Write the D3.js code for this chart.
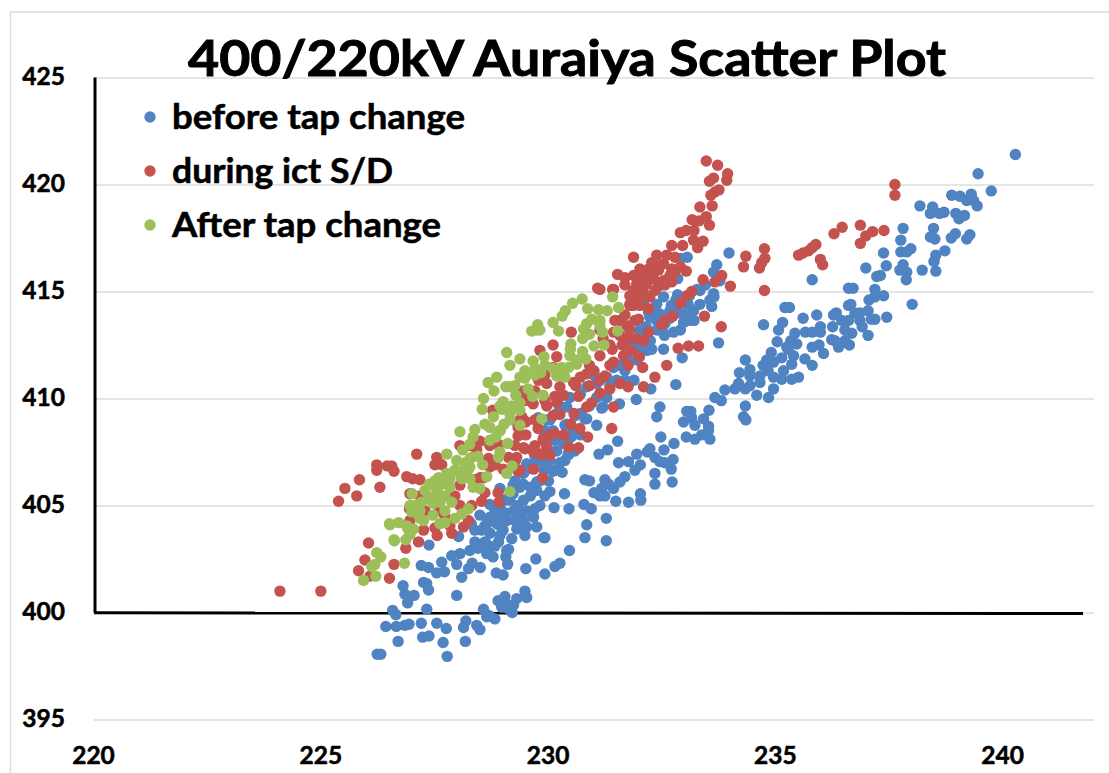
<!DOCTYPE html>
<html><head><meta charset="utf-8">
<script src="https://cdn.jsdelivr.net/npm/d3@7/dist/d3.min.js"></script>
<style>html,body{margin:0;padding:0;background:#fff;overflow:hidden}svg{display:block}text{font-family:Lato,"Open Sans",sans-serif;font-weight:700;fill:#000;stroke:#000;stroke-width:.55px}</style>
</head><body><div id="chart"></div>
<script>
const chartTitle = "400/220kV Auraiya Scatter Plot";
const seriesNames = ["before tap change", "during ict S/D", "After tap change"];
const seriesColors = ["#5083c1", "#c4524f", "#9dbf59"];
const xTicks = [220, 225, 230, 235, 240];
const yTicks = [395, 400, 405, 410, 415, 420, 425];

const beforeTap = [
[240.27,421.4],[239.45,420.5],[239.74,419.7],[238.87,419.5],[239.05,419.45],[239.3,419.55],[239.2,419.25],[239.35,419.25],[239.43,419],[238.17,419],[238.45,418.95],[238.4,418.65],[238.6,418.65],[238.7,418.7],[238.96,418.65],[239.15,418.55],[239.03,418.4],[237.8,417.95],[238.47,417.95],[238.4,417.55],[238.5,417.45],[238.95,417.7],[238.86,417.5],[239.27,417.65],[239.2,417.45],[237.75,417.4],[237.97,417],[237.88,416.85],[237.75,416.85],[237.37,416.8],[238.72,416.9],[238.52,416.7],[238.48,416.4],[237.8,416.25],[237.43,416.2],[236.98,416.1],[237.73,416],[237.88,415.9],[238.22,416],[238.52,415.95],[237.87,415.55],[237.3,415.75],[237.22,415.7],[235.8,415.55],[236.6,415.15],[236.7,415.15],[237.18,415.1],[237.37,414.8],[237.18,414.75],[237.05,414.6],[238,414.4],[235.2,414.25],[235.3,414.25],[236.6,414.35],[236.65,414.4],[237.03,414.1],[236.85,414],[236.74,414],[236.33,414],[236.27,413.9],[235.9,413.9],[235.6,413.75],[237.44,413.8],[237.18,413.7],[237.1,413.7],[236.45,413.65],[236.6,413.65],[236.85,413.65],[235.15,413.55],[235.98,413.35],[236.25,413.35],[236.9,413.35],[235.42,413.05],[235.65,413.1],[235.8,413.1],[235.98,413.1],[236.52,413.2],[236.67,413.05],[237.03,412.95],[235.33,412.7],[236.23,412.75],[236.52,412.7],[236.42,412.55],[236.62,412.5],[235.95,412.5],[235.8,412.4],[235.24,412.4],[236.38,412.4],
[234.73,413.45],[235.06,413.2],[236.3,412.7],[235.03,412.65],[235.3,412.5],[236.05,412.1],[235.46,412.55],[235.27,412.3],[235.39,412],[234.9,412.15],[235.13,411.9],[235.64,411.85],[235.8,411.55],[235.35,411.6],[234.33,411.8],[234.8,411.8],[234.72,411.55],[234.95,411.7],[234.43,411.35],[234.2,411.2],[234.83,411.3],[235.17,411.3],[234.43,411.05],[234.65,411.05],[234.95,411],[235.13,410.9],[235.5,411],[235.35,410.9],[234.65,410.75],[234.18,410.7],[234.43,410.6],[234.95,410.45],[233.88,410.4],[234.1,410.45],[234.33,410.45],[234.58,410.15],[234.84,410.05],[233.66,410.05],[233.8,409.9],[234.33,409.65],[234.29,409.15],[234.34,409],[233.53,409.45],[233.04,409.4],[233.13,409.4],[232.45,409.6],[232.38,409.15],[233.15,409.1],[232.97,408.9],[233.41,409.05],[233.22,408.75],[233.52,408.7],[233.03,408.2],[233.52,408.5],[233.37,408.3],[233.22,408.1],[233.55,408.1],[232.47,408.2],[232.76,407.9],[231.52,408],[231.3,407.6],[231.11,407.4],[232.54,407.6],[232.23,407.65],[231.94,407.4],[232.17,407.5],[232.34,407.25],[232.45,407.05],[232.74,407.15],[232.56,407],[231.54,407],[231.76,407.05],[232.02,406.9],[231.9,406.65],[232.7,406.7],[232.34,406.5],[231.68,406.35],[230.8,406.2],[230.9,406.15],[231.24,406.2],[231.57,406.1],[232.34,406],[232.72,406.1],[231.43,405.8],[231.32,406],[231.17,405.8],[231,405.6],[231.24,405.45],[230.35,405.55],[231.13,405.45],[232.02,405.55],[232.03,405.25],[231.48,405.2],[231.76,405.15],[230.78,405.05],[230.94,404.85],[230.45,404.85],[231.27,404.4],[230.84,404.1],[230.8,403.5],[231.27,403.35],
[232.53,412.3],[232.94,411.9],[233.74,412.6],[232.8,410.65],[232.25,410.45],[231.93,409.95],[231.88,410.85],[231.56,409.75],[231.17,409.55],[231.06,408.75],[230.8,409.05],[230.45,407.4],
[233.97,416.8],[233.05,416.6],[232.9,416.55],[233.7,416.25],[233.63,415.9],[232.84,415.6],[233.77,415.5],[233.27,415.1],[233.63,414.9],[232.84,414.85],[232.53,414.75],[233.64,414.75],[233.33,414.4],[233.59,414.3],[232.7,414.35],[233.19,414.1],[232.09,414.55],[232.31,414.1],[232.97,413.95],[233.07,414.4],[232.85,414],[232.53,413.8],[232.97,413.55],[232.75,413.1],[232.5,413.2],[232.38,413.65],[232.23,413.8],[233,413.6],[232.27,412.3],[232.17,412.25],[231.2,409.6],
[232.2,414.03],[232.45,413.95],[232.67,414.1],[232.38,414.4],[232.15,413.35],[232.38,413.2],[232.56,413.5],[232.02,412.4],[232.15,412.85],[231.72,411.95],[231.94,411.8],[231.43,411.45],[231.68,411.3],[231.28,411],[231.5,410.85],[231.06,410.7],[230.84,410.55],[230.7,410.2],[231.06,410.05],[231.28,410.05],[230.47,410.05],[230.4,409.6],[230.7,409.3],[230.84,409.05],[230.18,409.3],[229.96,409],[230.4,408.8],[230.1,408.5],[230.55,408.5],[229.9,408.05],[230.33,407.9],[230.5,408.2],[230.18,407.55],[230.43,407.4],[229.74,407.1],[230.03,407.1],[230.25,407],[229.52,406.95],[229.9,406.65],[230.3,406.55],[230.1,406.6],
[230.03,405.65],[230.12,404.9],[229.92,403.5],[230.46,402.9],[230,406.15],[229.74,405.7],[229.81,405],[229.6,405.85],[229.37,405.85],[229.45,405.25],[229.15,405.25],[228.93,404.9],[228.71,405.05],[229.23,404.75],[229.52,404.75],[229.67,404.45],[229.74,404],[229.45,404.3],[229.08,404.3],[228.86,404.15],[228.6,404.05],[229.3,403.9],[229.52,404],[229,403.85],[228.71,403.7],[228.6,403.3],[228.9,403.3],[229.12,402.95],[228.7,403],[228.93,404.55],[228.71,404.45],[229.22,405.55],[229.44,406.5],[229.66,406.8],[229.97,407],[229.74,406.1],[229.44,406],[229.22,405.95],[228.93,405.8],
[226.31,398.05],[226.23,398.05],[227.77,397.95],[226.69,398.65],[227.23,398.85],[227.37,398.9],[227.68,398.6],[228.17,398.65],[226.42,399.35],[226.65,399.35],[226.84,399.4],[226.93,399.45],[227.2,399.5],[227.54,399.5],[227.75,399.25],[228.13,399.3],[228.18,399.6],[228.42,399.4],[228.49,399.2],[226.57,400.1],[226.64,399.9],[227.32,400.15],[228.57,400.15],[228.64,399.8],[228.82,399.7],[229.2,400],[228.89,400.55],[229.04,400.75],[229.3,400.65],[229.48,401],[229.52,400.7],[229.08,400.4],[229.23,400.35],[228.97,400.25],[229.1,400.2],[228.7,399.85],[227.98,400.8],[226.9,400.45],[227.04,400.8],[226.8,401.25],[226.84,400.85],[227.25,401.4],[227.36,401.05],[227.32,401.35],[228.09,401.65],[227.2,402.2],[227.36,402.1],[227.54,401.85],[227.71,401.9],[227.65,402.35],[228.24,402.05],[228.32,402.3],[228.5,402.1],[228.85,401.85],[229,401.75],[229.5,402.05],[229.92,401.8],[229.72,402.5],[230.14,402.15],[230.25,402.3],[229.1,402.25],[229.06,402.6],[228.78,402.6],[227.98,402.25],[227.87,402.65],[228.05,402.75],[228.27,402.9],[228.38,403.3],[228.64,403.2],[229.08,402.9],[228.64,402.75],[227.37,403.15],[228.02,403.55],[228.3,404.15],[228.53,403.85],[228.64,404.15],[229.9,403.5],[229.77,409.1],[229.9,408.2],
[229.15,405.45],[229.33,405],[229.6,405.45],[229.05,404.65],[228.82,404.75],[229.37,404.55],[229.7,404.85],[229.92,405.45],[229.81,406.15],[229.48,406.6],[229.7,407.3],[229.26,406.15],[229.04,405.25],[228.71,404.3],[228.93,403.6],[229.19,403.45],[228.49,404.55],[228.38,403.85],[229.48,403.6],[229.26,404.3],[228.93,404.05],[228.82,403.1],[228.45,403],
[230.03,407.55],[229.92,408.5],[230.14,408.05],[230.36,408.75],[230.58,409.2],[230.25,409.65],[230.03,409],[230.9,409.65],[231.13,410.15],[231.35,410.6],[231.68,410.85],[231.02,411.05],[231.57,411.55],[232,411.95],[232.24,412.7],[232.55,412.95],[232.9,413.2],[233.1,413.65],[232.45,413.65],[232,413.2],[231.8,412.5],[232.8,414.6],[233.1,414.8],[233.33,415.05],[233.55,414.6],[233.2,413.65],[233.45,415.3],[232.67,413.75],[230.7,408.3],[230.36,407.1],[230.58,407.55],[230.14,406.65],[229.92,406.85]
];

const duringIct = [
[233.47,421.1],[233.72,420.9],[233.94,420.5],[233.92,420.2],[233.63,420.3],[233.54,420.15],[233.75,419.75],[233.66,419.65],[233.57,419.5],[233.6,419],[233.33,418.95],[233.47,418.5],[233.16,418.35],[233.31,418.3],[233.54,418.1],[232.9,417.75],[233.03,417.85],[233.2,417.85],[233.4,417.35],[233.19,417.4],[233.28,417.05],[232.71,417.15],[232.95,417.15],[231.87,416.6],[232.38,416.7],[232.6,416.7],[232.78,416.6],[232.27,416.35],[232.53,416.3],[232.01,416.05],[232.2,416.05],[232.42,416],[232.71,416.05],[232.9,416.15],[233.03,415.95],[232.78,415.9],[231.52,415.8],[231.68,415.65],[231.87,415.75],[232.09,415.65],[232.31,415.6],[232.53,415.5],[232.71,415.45],[231.94,415.35],[232.16,415.35],[232.42,415.25],[231.43,415.1],[231.13,415.1],[231.87,415.05],[232.09,414.95],[232.23,414.75],[231.9,414.75],[231.79,414.4],[231.87,414.35],[232.2,414.2],[233.4,415.55],[233.81,415.75],[233.66,415.45],[234,415.25],[234.75,415.05],[234.29,416.15],[234.34,416.65],[234.64,416.1],[234.69,416.35],[234.76,416.55],[234.75,417],[233.15,415],[233.04,414.8],[232.9,414.45],[233.43,413.85],[233.8,413.35],[232.73,413.85],[232.56,413.65],[232.49,413.45],[235.5,416.7],[235.6,416.8],[235.72,416.9],[235.8,417.05],[235.88,417.2],[235.98,416.5],[236.03,416.25],[236.28,417.7],[236.46,418],
[237.62,420],[237.62,419.5],[236.86,418.1],[237.38,417.85],[237.13,417.8],[236.98,417.6],[236.86,417.25],
[224.09,401],[224.99,401],[226.5,401.6],[225.82,401.95],[226.07,401.7],[225.96,402.45],[226.6,402.25],[226.04,403.25],[226.86,403],[227.14,403.3],[227.87,403.7],[227.25,403.85],[227.5,403.95],[228.13,404],[228.24,404.3],[227.72,404.5],[228.89,405.6],[228.91,405.15],[228.6,405.6],[228.53,405.2],[228.31,405],[225.38,405.2],[225.78,405.45],[225.52,405.8],[225.84,406.2],[226.29,405.85],[226.22,406.9],[226.22,406.65],[226.45,406.85],[226.55,406.85],[226.6,406.6],[226.88,406.35],[227.01,406.25],[227.17,406.2],[227.1,407.4],[227.54,407.25],[227.65,406.9],[228.05,407.8],[228.42,407.6],[228.68,407.2],[228.71,406.8],[229,406.7],[229.33,406.6],[229.12,407.25],[229.3,407.25],[229.48,407.65],[229.67,407.5],[229.85,407.4],[230.03,407.35],[229.67,406.7],[229.87,406.3],[228.49,406.3],[228.05,405.95],[226.95,405.55],[226.94,404.85],[228.05,405],
[231.08,415.15],[231.41,415.1],[231.83,414.55],[231.79,414.35],[231.98,413.7],[231.57,413.65],[231.72,413.4],[231.43,413.1],[231.13,413.2],[230.5,413.1],[232.2,413.1],[231.72,412.85],[231.94,412.8],[232.09,412.7],[231.2,412.8],[231.62,412.5],[231.4,412.3],[231.83,412.25],[232.85,412.35],[233.08,412.45],[233.3,412.45],[230.1,412.5],[229.81,412.25],[230.18,411.95],[230.1,411.45],[231.65,412],[231.43,411.7],[231.99,411.95],[231.75,411.55],[232.07,411.45],[232.6,411.55],[232.34,411],[232.09,410.55],[231.24,411.05],[231,411.3],[230.84,411.15],[230.7,411],[230.55,410.75],[231.13,410.85],[230.25,410.55],[229.96,410.7],[229.78,410.85],[229.59,410.05],[229.45,410.35],[229.96,409.65],[230.33,410.15],[230.18,409.8],[230.66,410.1],[230.84,409.6],[230.95,409.8],[231.13,410.25],[231.35,410.45],[231.57,410.7],[231.75,410.55],[231.43,409.6],[230.56,409.3],[230.25,409.25],[230.1,409.2],[230.49,408.8],[230.69,408.6],[230.86,408.2],[231.39,408.6],[230.34,408.3],[230.14,408.35],[229.99,408.25],[229.88,408.1],[229.77,408.6],[229.33,408.25],[229.33,408.65],[229.41,409.15],[229.5,408.9],[228.77,409.45],[229.66,409.75],[229.96,407.75],[230.44,407.75],[230.66,407.7],[229.45,407.7],[229.81,407.4],[229.27,407.1],[228.9,407.85],[227.61,406.95],[229.37,406.65],[228.57,406.3],[229.3,408.9],[229.48,408.95],
[231.68,415.3],[232.01,415.3],[232.23,415.75],[232.45,416.2],[232.67,415.75],[232.12,414.8],[231.79,414.8],[232.34,415.05],[232.56,415.3],[232.01,414.35],[231.68,413.9],[231.9,413.65],[231.46,413.65],[231.57,412.95],[231.79,413.2],[231.35,412.5],[231.13,412],[231.68,412.5],[230.9,411.55],[231.35,411.55],[230.6,410.6],[230.9,410.6],[230.25,411.1],[229.92,411.1],[229.7,410.35],[230.14,410.1],[229.92,409.9],[229.48,409.9],[229.7,409],[230.03,408.3],[229.5,408.3],[229.26,407.8],[229.7,407.8],[228.93,408.5],[228.71,407.8],[228.49,408],[228.27,407.8],[228.82,406.9],[228.38,406.2],[227.94,405.45],[227.72,406.15],[227.5,406.9],[227.17,405.45],[227.28,404.75],[227.61,404.75],[227.83,404.05],[227.55,403.6],[226.95,404.3]
];

const afterTap = [
[230.74,414.65],[230.53,414.45],[231.41,414.75],[231.54,414.25],[230.86,414.2],[231.1,414.15],[231.29,414.1],[230.37,414.1],[230.3,413.85],[230.1,413.55],[231.13,413.65],[230.95,413.7],[230.84,413.5],[230.77,413.25],[229.76,413.45],[229.74,413.2],[229.81,413.2],[229.63,413.15],[230.22,413.15],[231.19,413.1],[231.52,413.15],[230.75,412.8],[230.49,412.55],[230.48,412.3],[231,412.45],[231.22,412.5],[230.75,412.2],[229.08,412.15],[230.82,411.85],[230.6,411.8],[229.9,411.95],[229.37,411.85],[229.66,411.75],[229.15,411.55],[230.44,411.45],[230.29,411.45],[230.1,411.4],[230.62,411.6],[229.48,411.3],[229.7,411.4],[229.83,411.2],[230.18,411.05],[230.36,411],[229.37,411],[228.86,411],[228.67,410.75],[228.8,410.35],[229.06,410.55],[229.15,410.55],[229.55,410.45],[228.57,410],[229.28,410.15],[229.88,410.15],[229.65,410.1],[229,409.85],[229.37,409.8],[228.54,409.5],[228.97,409.5],[229.19,409.65],[229.15,409.3],[228.79,409.15],[229.85,409.05],[228.6,408.8],[229.02,408.8],[229.37,408.75],[228.71,408.65],[228.38,408.55],[228.05,408.45],[228.34,408.2],[228.84,408.2],[228.26,407.85],[229.1,407.9],[228.11,407.6],[227.76,407.4],[227.98,407.1],[228.31,407.25],[228.93,407.5],[228.9,407.25],[228.55,406.9],[229.2,406.85],[228.24,406.7],[228.05,406.5],[229.08,406.5],[227.76,406.5],[228.64,406.35],
[227,405.55],[227.38,406],[227.58,406.3],[227.65,406],[227.83,405.85],[227.54,405.7],[227.72,405.45],[227.36,405.4],[227.87,405.15],[227.61,405.15],[227.2,405.15],[227.06,405],[227.46,405.1],[226.99,404.7],[227.17,404.4],[227.46,404.55],[226.51,404.1],[226.7,404.2],[226.88,404.05],[227.03,403.9],[226.95,403.65],[226.6,403.4],[228.24,404.85],[228.09,404.6],[227.94,404.4],[227.72,404.2],[227.61,404.15],[229.15,405.65],[228.27,407.2],[228.13,406.65],[228.27,406.8],[228.09,406.25],[228.27,406.25],[228.34,405.85],[228.49,405.8],
[226.22,402.8],[226.31,402.6],[226.18,402.25],[226.11,402.15],[226.2,401.7],[225.93,401.5],[226.83,402.3],[226.61,403.35],[226.86,403.4],[226.5,404.15],[226.91,403.9],[227.06,404.75],[227.25,404.3],
[227.28,405.7],[227.5,406.15],[227.61,405.45],[227.83,406.25],[227.4,405.25],[227.17,404.75],[226.95,405],[227.72,404.75],[227.94,406.65],[228.16,407],[228.45,407.3],[228.71,408.05],[228.93,408.5],[229.15,409],[228.93,409.65],[229.26,410.6],[229.48,410.95],[229.7,411.1],[229.92,411.55],[230.47,412],[230.9,413],[231.13,413.4],[229.37,409.45]
];

const W = 1109, H = 773;
const x = d3.scaleLinear().domain([220, 242]).range([94, 1094]);
const y = d3.scaleLinear().domain([395, 425]).range([719.5, 77.5]);

const svg = d3.select("#chart").append("svg").attr("width", W).attr("height", H);

// outer chart frame
svg.append("path").attr("d", d3.line()([[10.5, H], [10.5, 12], [W, 12]]))
  .attr("fill", "none").attr("stroke", "#dcdcdc").attr("stroke-width", 1.5);

// y axis with gridlines
const gy = svg.append("g").attr("transform", `translate(${x(220)},0)`)
  .call(d3.axisLeft(y).tickValues(yTicks).tickSize(0).tickPadding(29));
gy.select(".domain").remove();
gy.selectAll(".tick line").attr("x2", x(242) - x(220)).attr("stroke", "#dcdcdc").attr("stroke-width", 1.5);
gy.selectAll("text").style("font-size", "24.5px").attr("dy", "0.3em").attr("fill", "#000");

// x axis labels
const gx = svg.append("g").attr("transform", `translate(-1,${y(395)})`)
  .call(d3.axisBottom(x).tickValues(xTicks).tickSize(0).tickPadding(27));
gx.select(".domain").remove();
gx.selectAll("text").style("font-size", "24.5px").attr("fill", "#000");

// heavy black axis lines
svg.append("line").attr("x1", x(220) + 1).attr("x2", x(220) + 1).attr("y1", y(425)).attr("y2", y(400))
  .attr("stroke", "#000").attr("stroke-width", 3);
svg.append("line").attr("x1", x(220)).attr("x2", 1083).attr("y1", y(400) + .3).attr("y2", y(400) + 1)
  .attr("stroke", "#000").attr("stroke-width", 3);

// series, in drawing order
[beforeTap, duringIct, afterTap].forEach((pts, i) => {
  svg.append("g").selectAll("circle").data(pts).join("circle")
    .attr("cx", d => x(d[0])).attr("cy", d => y(d[1])).attr("r", 5.7)
    .attr("fill", seriesColors[i]);
});

// title
svg.append("text").attr("x", 188).attr("y", 76)
  .attr("textLength", 758).attr("lengthAdjust", "spacingAndGlyphs")
  .style("font-size", "50px").style("stroke-width", "1px").text(chartTitle);

// legend
const legY = [117, 171, 225];
const legW = [293, 221, 269];
seriesNames.forEach((n, i) => {
  svg.append("circle").attr("cx", 150).attr("cy", legY[i]).attr("r", 5.7).attr("fill", seriesColors[i]);
  svg.append("text").attr("x", 172).attr("y", legY[i] + 11.5)
    .attr("textLength", legW[i]).attr("lengthAdjust", "spacingAndGlyphs")
    .style("font-size", "34px").text(n);
});
</script></body></html>
